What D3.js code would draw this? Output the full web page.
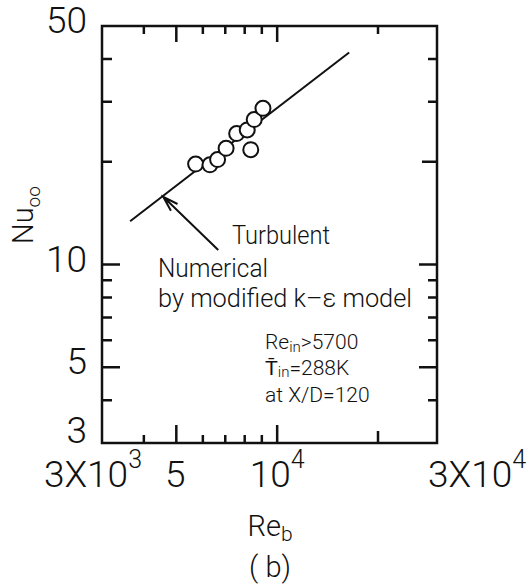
<!DOCTYPE html>
<html>
<head>
<meta charset="utf-8">
<script src="https://cdn.jsdelivr.net/npm/d3@7"></script>
<style>
  body { margin: 0; background: #fff; }
  svg text { font-family: Roboto, "Liberation Sans", Arial, sans-serif; font-weight: 300; fill: #111; }
</style>
</head>
<body>
<svg id="chart" width="532" height="584"></svg>
<script>
// measured points (open circles)
const reExp = [5710, 6300, 6640, 7040, 7570, 8140, 8340, 8540, 9070];
const nuExp = [19.7, 19.6, 20.3, 21.9, 24.2, 24.8, 21.7, 26.6, 28.7];

// numerical line, modified k-e model
const reNum = [3640, 16400];
const nuNum = [13.4, 41.8];

// arrow pointing at the line: [tail, tip]
const arrowRe = [6670, 4570];
const arrowNu = [11.03, 15.8];

const xMajor = [5000, 10000];
const xMinor = [4000, 6000, 7000, 8000, 9000, 20000];
const yMajor = [5, 10];
const yMinor = [4, 6, 7, 8, 9, 20, 30, 40];

const xLabels = [
  { v: 3000, base: "3X10", sup: "3", anchor: "end", dx: 40 },
  { v: 5000, base: "5", sup: "", anchor: "middle", dx: -1 },
  { v: 10000, base: "10", sup: "4", anchor: "middle", dx: 0 },
  { v: 30000, base: "3X10", sup: "4", anchor: "start", dx: -9 }
];
const yLabels = [50, 10, 5, 3];

const margin = { top: 26, left: 102 };
const W = 335, H = 417;

const svg = d3.select("#chart");
const g = svg.append("g").attr("transform", `translate(${margin.left},${margin.top})`);

const x = d3.scaleLog().domain([3000, 30000]).range([0, W]);
const y = d3.scaleLog().domain([3, 50]).range([H, 0]);

g.append("rect")
  .attr("width", W).attr("height", H)
  .attr("fill", "none").attr("stroke", "#111").attr("stroke-width", 2.5);

// inward ticks, length depends on side and value
const bottomLen = d => xMajor.includes(d) ? 18 : d === 20000 ? 12 : 8;
const topLen = d => xMajor.includes(d) ? 16 : 8;
const leftLen = d => yMajor.includes(d) ? 18 : 10;
const rightLen = d => yMajor.includes(d) ? 18 : d === 20 ? 15 : 9;
const xTicks = xMajor.concat(xMinor), yTicks = yMajor.concat(yMinor);

const tp = d3.path();
xTicks.forEach(d => {
  tp.moveTo(x(d), H); tp.lineTo(x(d), H - bottomLen(d));
  tp.moveTo(x(d), 0); tp.lineTo(x(d), topLen(d));
});
yTicks.forEach(d => {
  tp.moveTo(0, y(d)); tp.lineTo(leftLen(d), y(d));
  tp.moveTo(W, y(d)); tp.lineTo(W - rightLen(d), y(d));
});
g.append("path").attr("d", tp.toString())
  .attr("fill", "none").attr("stroke", "#111").attr("stroke-width", 2.5);

// tick labels
const xl = svg.append("g").attr("transform", `translate(${margin.left},0)`);
xLabels.forEach(d => {
  const t = xl.append("text")
    .attr("x", x(d.v) + d.dx).attr("y", 487)
    .attr("text-anchor", d.anchor)
    .style("font-size", "37px");
  t.append("tspan").text(d.base);
  if (d.sup) t.append("tspan").attr("dy", -19).style("font-size", "25px").text(d.sup);
});

const yl = svg.append("g").attr("transform", `translate(0,${margin.top})`);
yl.selectAll("text").data(yLabels).join("text")
  .attr("x", 87)
  .attr("y", d => d === 3 ? y(d) : y(d) + 7)
  .attr("text-anchor", "end")
  .style("font-size", "37px")
  .text(d => d);

// axis titles
const xt = svg.append("text").attr("x", 270).attr("y", 536).attr("text-anchor", "middle").style("font-size", "29px");
xt.append("tspan").text("Re");
xt.append("tspan").attr("dy", 5).style("font-size", "21px").text("b");

svg.append("text").attr("x", 270).attr("y", 577).attr("text-anchor", "middle")
  .style("font-size", "29px").text("( b)");

const yt = svg.append("text")
  .attr("transform", "translate(33,215) rotate(-90)")
  .attr("text-anchor", "middle").style("font-size", "29px");
yt.append("tspan").text("Nu");
yt.append("tspan").attr("dy", 7).style("font-size", "19px").text("oo");

// numerical line
const line = d3.line().x(d => x(d[0])).y(d => y(d[1]));
g.append("path")
  .datum(d3.zip(reNum, nuNum))
  .attr("d", line)
  .attr("fill", "none").attr("stroke", "#111").attr("stroke-width", 2);

// experiment circles
g.selectAll("circle").data(d3.zip(reExp, nuExp)).join("circle")
  .attr("cx", d => x(d[0])).attr("cy", d => y(d[1]))
  .attr("r", 7.5)
  .attr("fill", "#fff").attr("stroke", "#111").attr("stroke-width", 2);

// arrow with open head
const ax0 = x(arrowRe[0]), ay0 = y(arrowNu[0]);
const ax1 = x(arrowRe[1]), ay1 = y(arrowNu[1]);
const ang = Math.atan2(ay0 - ay1, ax0 - ax1);
const headLen = 16, spread = 0.3;
const arrow = d3.path();
arrow.moveTo(ax0, ay0); arrow.lineTo(ax1, ay1);
arrow.moveTo(ax1 + headLen * Math.cos(ang - spread), ay1 + headLen * Math.sin(ang - spread));
arrow.lineTo(ax1, ay1);
arrow.lineTo(ax1 + headLen * Math.cos(ang + spread), ay1 + headLen * Math.sin(ang + spread));
g.append("path").attr("d", arrow.toString())
  .attr("fill", "none").attr("stroke", "#111").attr("stroke-width", 2);

// annotations
const note = svg.append("g");
note.append("text").attr("x", 232).attr("y", 244).style("font-size", "26px")
  .attr("textLength", 98).attr("lengthAdjust", "spacingAndGlyphs").text("Turbulent");
note.append("text").attr("x", 158).attr("y", 277).style("font-size", "26px")
  .attr("textLength", 110).attr("lengthAdjust", "spacingAndGlyphs").text("Numerical");
note.append("text").attr("x", 158).attr("y", 307).style("font-size", "26px")
  .attr("textLength", 254).attr("lengthAdjust", "spacingAndGlyphs").text("by modified k\u2013\u03b5 model");

const n1 = note.append("text").attr("x", 265).attr("y", 349).style("font-size", "21px");
n1.append("tspan").text("Re");
n1.append("tspan").attr("dy", 3).style("font-size", "15px").text("in");
n1.append("tspan").attr("dy", -3).text(">5700");

const n2 = note.append("text").attr("x", 265).attr("y", 375).style("font-size", "21px");
n2.append("tspan").text("T\u0304");
n2.append("tspan").attr("dy", 2).style("font-size", "15px").text("in");
n2.append("tspan").attr("dy", -2).text("=288K");

note.append("text").attr("x", 265).attr("y", 402).style("font-size", "21px").text("at X/D=120");
</script>
</body>
</html>
